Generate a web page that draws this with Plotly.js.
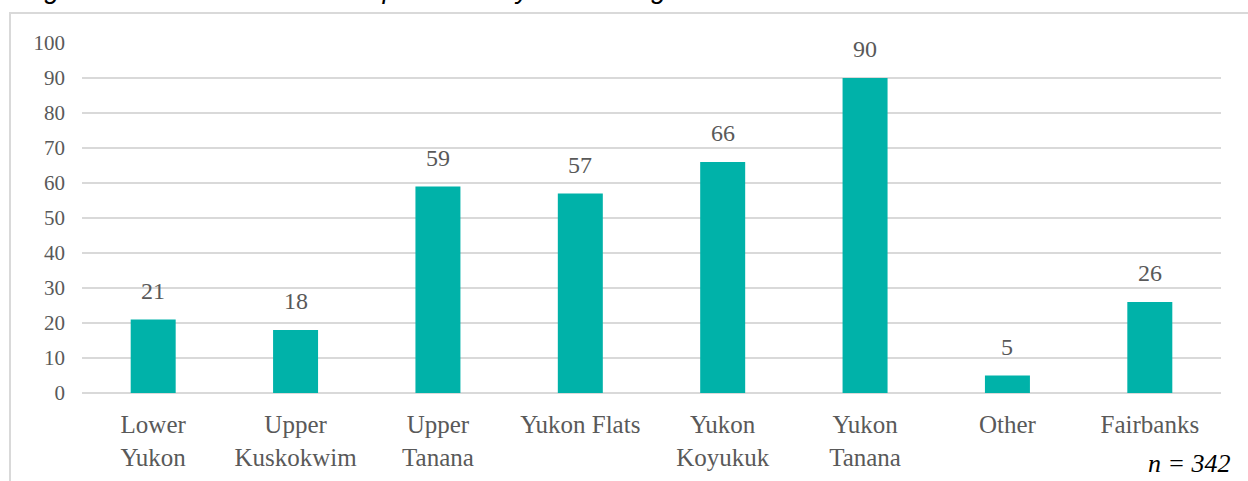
<!DOCTYPE html>
<html>
<head>
<meta charset="utf-8">
<script src="https://cdn.plot.ly/plotly-3.0.1.min.js"></script>
<style>
  html, body { margin: 0; padding: 0; background: #ffffff; }
  #chart { width: 1248px; height: 481px; }
</style>
</head>
<body>
<div id="chart"></div>
<script>
const categories = ["Lower<br>Yukon", "Upper<br>Kuskokwim", "Upper<br>Tanana", "Yukon Flats", "Yukon<br>Koyukuk", "Yukon<br>Tanana", "Other", "Fairbanks"];
const values = [21, 18, 59, 57, 66, 90, 5, 26];
const yTickValues = [0, 10, 20, 30, 40, 50, 60, 70, 80, 90, 100];
const titleText = "Figure 3: Total Number of Respondents by Home Region";
const noteText = "<i>n = 342</i>";

const serif = "Liberation Serif";
const grey = "#595959";

const dataLabels = categories.map((c, i) => ({
  x: c, y: values[i], xref: "x", yref: "y",
  text: String(values[i]), showarrow: false,
  yanchor: "bottom", yshift: 15, borderpad: 0,
  font: { family: serif, size: 24, color: grey }
}));

const trace = {
  type: "bar",
  x: categories,
  y: values,
  marker: { color: "#00B2A9" },
  hoverinfo: "x+y"
};

const layout = {
  width: 1248, height: 481,
  margin: { l: 82, r: 27, t: 43, b: 88 },
  paper_bgcolor: "#ffffff",
  plot_bgcolor: "#ffffff",
  showlegend: false,
  bargap: 0.684,
  font: { family: serif, color: grey },
  xaxis: {
    type: "category",
    showgrid: false, showline: false, zeroline: false,
    ticks: "",
    tickfont: { family: serif, size: 25, color: grey },
    ticklabelstandoff: 14
  },
  yaxis: {
    range: [0, 100],
    tickvals: yTickValues,
    ticktext: yTickValues.map(String),
    showgrid: true, gridcolor: "#d9d9d9", gridwidth: 1.3,
    zeroline: true, zerolinecolor: "#d9d9d9", zerolinewidth: 1.3,
    showline: false, ticks: "",
    tickfont: { family: serif, size: 21, color: grey },
    ticklabelstandoff: 16
  },
  shapes: [{
    type: "rect", xref: "paper", yref: "paper",
    x0: -0.0632, x1: 1.2, y0: -0.5, y1: 1.0857,
    line: { color: "#d9d9d9", width: 2 },
    fillcolor: "rgba(0,0,0,0)", layer: "below"
  }],
  annotations: dataLabels.concat([
    {
      xref: "paper", yref: "paper", x: -0.0535, y: 1.108,
      xanchor: "left", yanchor: "bottom", showarrow: false, borderpad: 0,
      text: "<i>" + titleText + "</i>",
      font: { family: "Liberation Sans", size: 27, color: "#000000" }
    },
    {
      xref: "paper", yref: "paper", x: 1.0097, y: -0.2446,
      xanchor: "right", yanchor: "bottom", showarrow: false, borderpad: 0,
      text: noteText,
      font: { family: serif, size: 26, color: "#000000" }
    }
  ])
};

Plotly.newPlot("chart", [trace], layout, { displayModeBar: false, staticPlot: true });
</script>
</body>
</html>
